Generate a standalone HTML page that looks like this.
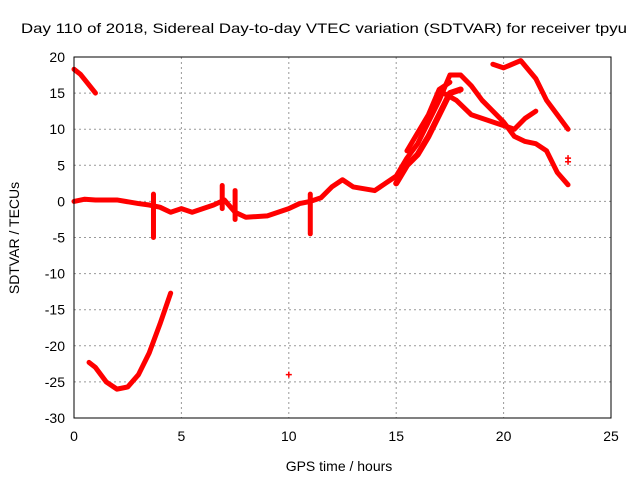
<!DOCTYPE html>
<html><head><meta charset="utf-8"><style>
body{margin:0;background:#fff;}
svg{display:block;font-family:"Liberation Sans",sans-serif;}
</style></head><body>
<svg id="chart" width="640" height="480">
<text x="324" y="33" font-size="14" text-anchor="middle" textLength="606" lengthAdjust="spacingAndGlyphs">Day 110 of 2018, Sidereal Day-to-day VTEC variation (SDTVAR) for receiver tpyu</text>
<text x="339" y="471" font-size="14" text-anchor="middle">GPS time / hours</text>
<text transform="translate(19,238) rotate(-90)" font-size="14" text-anchor="middle">SDTVAR / TECUs</text>
<g id="grid"></g><g id="ticks"></g><g id="series"></g>
<rect x="74" y="57" width="537" height="361" fill="none" stroke="#000"/>
</svg>
<script>
const xTicks=[0,5,10,15,20,25];
const yTicks=[20,15,10,5,0,-5,-10,-15,-20,-25,-30];
const seg1=[[0,18.3],[0.3,17.6],[0.6,16.5],[1,15]];
const seg2=[[0.7,-22.3],[1,-23],[1.5,-25],[2,-26],[2.5,-25.7],[3,-24],[3.5,-21],[4,-17],[4.5,-12.7]];
const mainSeg=[[0,0],[0.5,0.3],[1,0.2],[2,0.2],[3,-0.3],[3.5,-0.5],[4,-0.8],[4.5,-1.5],[5,-1],[5.5,-1.5],[6,-1],[6.5,-0.5],[7,0.2],[7.5,-1.5],[8,-2.2],[9,-2],[10,-1],[10.5,-0.3],[11,0],[11.5,0.5],[12,2],[12.5,3],[13,2],[14,1.5],[14.5,2.5],[15,3.5],[15.5,6],[16,8],[16.5,11],[17,14],[17.5,17.5],[18,17.5],[18.5,16],[19,14],[19.5,12.5],[20,11],[20.5,9],[21,8.3],[21.5,8],[22,7],[22.5,4],[23,2.3]];
const bandSeg=[[15,2.5],[15.5,5],[16,6.5],[16.5,9],[17,12],[17.5,15],[18,15.5]];
const bandSeg2=[[15.5,7],[16,9.5],[16.5,12],[17,15.5],[17.5,16.5]];
const seg3=[[17.2,15],[17.8,14],[18.5,12],[19.5,11],[20.5,10],[21,11.5],[21.5,12.5]];
const seg4=[[19.5,19],[20,18.5],[20.8,19.5],[21.5,17],[22,14],[22.5,12],[23,10]];
const spike1=[[3.7,1],[3.7,-5]];
const spike2=[[11,1],[11,-4.5]];
const spike3=[[6.9,2.2],[6.9,-1]];
const spike4=[[7.5,1.5],[7.5,-2.5]];
const singles=[[10,-24],[23,6],[23,5.5]];
const X0=74,X1=611,Y0=418,Y1=57;
const sx=v=>X0+(v-0)/25*(X1-X0);
const sy=v=>Y0-(v+30)/50*(Y0-Y1);
const NS="http://www.w3.org/2000/svg";
const g=document.getElementById('grid'),t=document.getElementById('ticks'),s=document.getElementById('series');
function mk(tag,attrs,parent){const e=document.createElementNS(NS,tag);for(const k in attrs)e.setAttribute(k,attrs[k]);parent.appendChild(e);return e;}
xTicks.forEach(v=>{
 const x=sx(v);
 if(v>0&&v<25){const l=mk('line',{x1:x,x2:x,y1:Y1,y2:Y0,stroke:'#999','stroke-dasharray':'2,3','stroke-width':1},g);
 
 }
 const tx=mk('text',{x:x,y:Y0+23,'font-size':14,'text-anchor':'middle'},t);tx.textContent=v;
 
 
});
yTicks.forEach(v=>{
 const y=sy(v);
 if(v>-30&&v<20){const l=mk('line',{x1:X0,x2:X1,y1:y,y2:y,stroke:'#999','stroke-dasharray':'2,3','stroke-width':1},g);
 
 }
 const tx=mk('text',{x:X0-9,y:y+5,'font-size':14,'text-anchor':'end'},t);tx.textContent=v;
 
 
});
function line(arr,name,w){
 const p=mk('polyline',{points:arr.map(d=>sx(d[0])+','+sy(d[1])).join(' '),fill:'none',stroke:'#f00','stroke-width':w||5,'stroke-linejoin':'round','stroke-linecap':'round'},s);
 
 
}
line(seg1,'series-early-high');
line(seg2,'series-early-low');
line(mainSeg,'series-main');
line(bandSeg,'series-band-lower',6);
line(bandSeg2,'series-band-upper',5);
line(seg3,'series-branch-mid');
line(seg4,'series-branch-high');
line(spike1,'spike-3h');
line(spike2,'spike-11h');
line(spike3,'spike-7h');
line(spike4,'spike-7-5h');
singles.forEach(d=>{
 const p=mk('path',{d:`M${sx(d[0])-3},${sy(d[1])}h6M${sx(d[0])},${sy(d[1])-3}v6`,stroke:'#f00','stroke-width':1.5},s);
 
 
});
</script>
</body></html>
